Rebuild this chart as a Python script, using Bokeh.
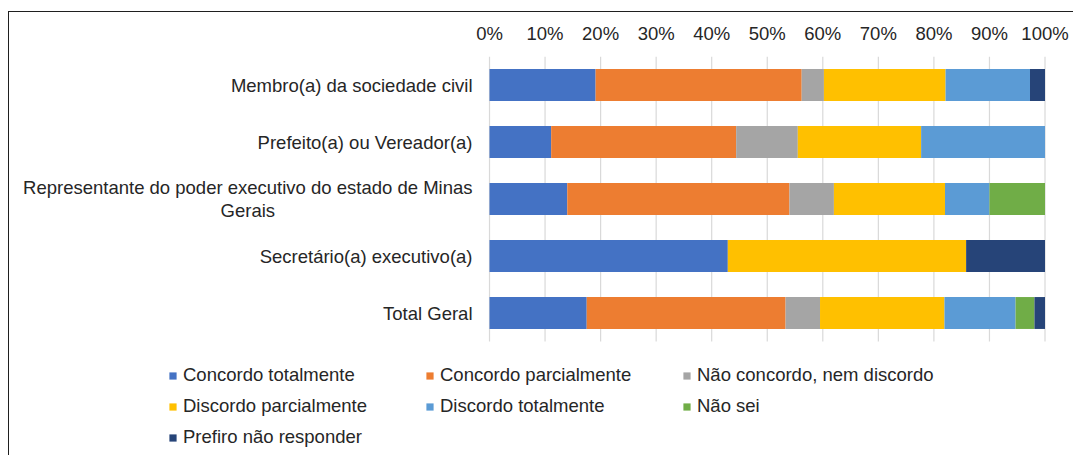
from bokeh.plotting import figure
from bokeh.models import (ColumnDataSource, PrintfTickFormatter,
                          FixedTicker, Legend, Range1d, InlineStyleSheet)
from bokeh.core.properties import value
from bokeh.embed import file_html
from bokeh.resources import INLINE

categories = [
    "Membro(a) da sociedade civil",
    "Prefeito(a) ou Vereador(a)",
    "Representante do poder executivo do estado de Minas\nGerais",
    "Secretário(a) executivo(a)",
    "Total Geral",
]
series = [
    "Concordo totalmente",
    "Concordo parcialmente",
    "Não concordo, nem discordo",
    "Discordo parcialmente",
    "Discordo totalmente",
    "Não sei",
    "Prefiro não responder",
]
concordo_totalmente   = [19.1, 11.1, 14.0, 42.9, 17.5]
concordo_parcialmente = [37.1, 33.3, 40.0, 0.0, 35.8]
nao_concordo          = [4.0, 11.1, 8.0, 0.0, 6.2]
discordo_parcialmente = [21.9, 22.2, 20.0, 42.9, 22.4]
discordo_totalmente   = [15.2, 22.3, 8.0, 0.0, 12.8]
nao_sei               = [0.0, 0.0, 10.0, 0.0, 3.4]
prefiro_nao_responder = [2.7, 0.0, 0.0, 14.2, 1.9]
tick_values = [0, 10, 20, 30, 40, 50, 60, 70, 80, 90, 100]

colors = ["#4472C4", "#ED7D31", "#A5A5A5", "#FFC000", "#5B9BD5", "#70AD47", "#264478"]
keys = ["s0", "s1", "s2", "s3", "s4", "s5", "s6"]

n = len(categories)
ypos = [n - i for i in range(n)]  # first category on top

source = ColumnDataSource(dict(
    y=ypos, cat=categories,
    s0=concordo_totalmente, s1=concordo_parcialmente, s2=nao_concordo,
    s3=discordo_parcialmente, s4=discordo_totalmente, s5=nao_sei, s6=prefiro_nao_responder,
))

FONT = "Liberation Sans"
FONT_SIZE = "18.5px"
TEXT_COLOR = "#262626"

# frame covers the whole canvas below the top axis; 0..100 % maps to x = 489..1044.5 px
p = figure(
    width=1073, height=455,
    x_range=Range1d(-88.03, 105.13),
    y_range=Range1d(-1.5, n + 0.5),
    output_backend="svg", toolbar_location=None,
    x_axis_location="above", y_axis_location=None,
    min_border_left=0, min_border_right=0, min_border_top=56, min_border_bottom=0,
)

p.outline_line_color = None
p.background_fill_color = "white"
p.border_fill_color = "white"
p.xgrid.grid_line_color = None
p.ygrid.grid_line_color = None

# vertical gridlines spanning the category band only
p.segment(x0=tick_values, x1=tick_values, y0=0.5, y1=n + 0.5,
          line_color="#D9D9D9", line_width=1.2)

renderers = p.hbar_stack(keys, y="y", height=0.56, source=source,
                         fill_color=colors, line_color=None)

# category labels (box anchored at right, lines centred like the original)
p.text(x=0, y="y", text="cat", source=source, x_offset=-17,
       anchor=value("center_right"), text_align="center", text_baseline="middle",
       text_font=value(FONT), text_font_size=FONT_SIZE, text_color=TEXT_COLOR,
       text_line_height=1.1)

xa = p.xaxis[0]
xa.ticker = FixedTicker(ticks=tick_values)
xa.formatter = PrintfTickFormatter(format="%d%%")
xa.axis_line_color = None
xa.major_tick_line_color = None
xa.minor_tick_line_color = None
xa.major_label_text_font = FONT
xa.major_label_text_font_size = FONT_SIZE
xa.major_label_text_color = TEXT_COLOR
xa.major_label_standoff = 7

legend = Legend(
    items=[(s, [r]) for s, r in zip(series, renderers)],
    location=(168, 7),
    orientation="horizontal", ncols=3,
    label_text_font=FONT, label_text_font_size=FONT_SIZE, label_text_color=TEXT_COLOR,
    glyph_width=9, glyph_height=9, label_standoff=6,
    label_width=233, label_height=21, spacing=9,
    padding=0, margin=0, border_line_color=None, background_fill_alpha=0,
)
p.add_layout(legend, "center")

p.stylesheets = [InlineStyleSheet(css="""
:host { position: relative; }
:host::after {
  content: "";
  position: absolute;
  left: 8px; top: 11px; right: 0px; bottom: 0px;
  border-left: 1.5px solid #1f1f1f;
  border-top: 1.5px solid #1f1f1f;
  pointer-events: none;
}
""")]

open("out.html", "w").write(file_html(p, INLINE))
